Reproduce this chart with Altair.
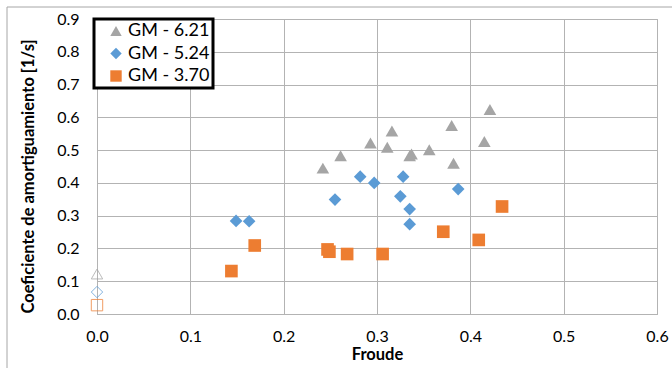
import altair as alt
import pandas as pd

series_names = ["GM - 6.21", "GM - 5.24", "GM - 3.70"]
series_colors = ["#A5A5A5", "#5B9BD5", "#ED7D31"]
series_shapes = ["triangle-up", "diamond", "square"]

gm621_froude = [0.242, 0.261, 0.293, 0.311, 0.316, 0.335, 0.337, 0.356, 0.380, 0.382, 0.415, 0.421]
gm621_coef = [0.445, 0.483, 0.522, 0.509, 0.558, 0.483, 0.488, 0.501, 0.575, 0.460, 0.526, 0.624]
gm524_froude = [0.149, 0.163, 0.255, 0.282, 0.297, 0.325, 0.328, 0.335, 0.335, 0.387]
gm524_coef = [0.284, 0.283, 0.349, 0.419, 0.400, 0.359, 0.419, 0.320, 0.274, 0.381]
gm370_froude = [0.144, 0.169, 0.247, 0.249, 0.268, 0.306, 0.371, 0.409, 0.434]
gm370_coef = [0.131, 0.209, 0.197, 0.190, 0.183, 0.183, 0.251, 0.226, 0.328]

# hollow markers at Froude = 0 (one per series)
zero_froude = [0.0, 0.0, 0.0]
zero_coef = [0.122, 0.067, 0.027]

x_ticks = [0.0, 0.1, 0.2, 0.3, 0.4, 0.5, 0.6]
y_ticks = [0.0, 0.1, 0.2, 0.3, 0.4, 0.5, 0.6, 0.7, 0.8, 0.9]

rows = []
for name, xs, ys in zip(series_names,
                        [gm621_froude, gm524_froude, gm370_froude],
                        [gm621_coef, gm524_coef, gm370_coef]):
    for xv, yv in zip(xs, ys):
        rows.append({"Froude": xv, "Coef": yv, "Serie": name})
df = pd.DataFrame(rows)
df_zero = pd.DataFrame({"Froude": zero_froude, "Coef": zero_coef, "Serie": series_names})

FONT = "Lato"
GRID = "#b3b3b3"

x_enc = alt.X("Froude:Q",
              scale=alt.Scale(domain=[0, 0.6], nice=False),
              axis=alt.Axis(values=x_ticks, format=".1f", title="Froude"))
y_enc = alt.Y("Coef:Q",
              scale=alt.Scale(domain=[0, 0.9], nice=False),
              axis=alt.Axis(values=y_ticks, format=".1f",
                            title="Coeficiente de amortiguamiento [1/s]",
                            titleX=-61, titleY=157))

color_scale = alt.Scale(domain=series_names, range=series_colors)
shape_scale = alt.Scale(domain=series_names, range=series_shapes)

frame = alt.Chart(pd.DataFrame({"a": [0]})).mark_rect(
    fill="white", fillOpacity=0, stroke="#a6a6a6", strokeWidth=1
).encode(x=alt.value(-90), x2=alt.value(620), y=alt.value(-12), y2=alt.value(353))

legend = alt.Legend(title=None, orient="none", legendX=-3, legendY=0,
                    strokeColor="black", fillColor="white", padding=3,
                    labelFontSize=18, labelFont=FONT, labelColor="black",
                    labelExpr="datum.label + '\u00a0'",
                    symbolOffset=10, labelOffset=3, rowPadding=4.5,
                    symbolSize=130, symbolStrokeWidth=0, symbolOpacity=1)

filled = alt.Chart(df).mark_point(filled=True, opacity=1, size=160).encode(
    x=x_enc, y=y_enc,
    color=alt.Color("Serie:N", scale=color_scale, sort=series_names, legend=legend),
    shape=alt.Shape("Serie:N", scale=shape_scale, sort=series_names, legend=legend),
)

hollow = alt.Chart(df_zero).mark_point(filled=False, opacity=0.75, size=130, strokeWidth=1).encode(
    x=x_enc, y=y_enc,
    color=alt.Color("Serie:N", scale=color_scale, sort=series_names, legend=None),
    shape=alt.Shape("Serie:N", scale=shape_scale, sort=series_names, legend=None),
)

chart = alt.layer(frame, hollow, filled).resolve_legend(
    color="independent", shape="independent"
).properties(
    width=560, height=295,
    autosize=alt.AutoSizeParams(type="none"),
    padding={"left": 97, "top": 19, "right": 15, "bottom": 54},
    background="white",
).configure_view(
    stroke=GRID, strokeWidth=1
).configure_legend(
    strokeWidth=3
).configure_axis(
    gridColor=GRID, gridWidth=1, domainColor=GRID, domainWidth=1,
    ticks=False, labelFlush=False,
    labelFont=FONT, labelFontSize=16, labelColor="black",
    titleFont=FONT, titleFontSize=16.5, titleFontWeight="bold", titleColor="black",
).configure_axisX(
    labelPadding=14, titlePadding=2
).configure_axisY(
    labelPadding=18, titlePadding=19
)

chart.save("out.html", embed_options={"renderer": "svg", "actions": False})
